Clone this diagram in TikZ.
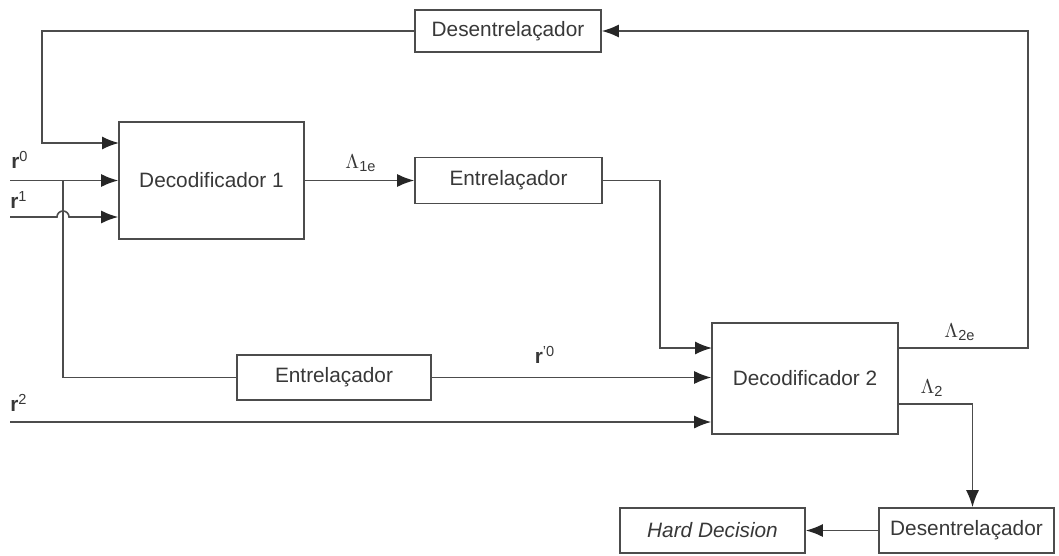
\documentclass[tikz,border=0pt]{standalone}
\usepackage{fontspec}
\setmainfont{Liberation Sans}
\usetikzlibrary{arrows.meta}
\definecolor{wireGray}{rgb}{0.30,0.30,0.30}
\definecolor{textGray}{rgb}{0.22,0.22,0.22}
\tikzset{
	block/.style={draw=wireGray, line width=0.8pt, fill=white, text=textGray, inner sep=0pt,
		font=\fontsize{10.4}{12}\selectfont},
	lbl/.style={text=textGray, inner sep=0pt, font=\fontsize{10.4}{12}\selectfont},
	wire/.style={draw=wireGray, line width=0.8pt},
	flow/.style={wire, -{Latex[length=8.5pt,width=6.5pt,color=black!85]}}
}

\begin{document}
\begin{tikzpicture}[x=0.5pt, y=-0.5pt]
	\useasboundingbox (0,0) rectangle (1059,556);

	% blocks
	\node[block, minimum width=92.5pt, minimum height=58.5pt] (dec1) at (211.5,180.5) {Decodificador 1};
	\node[block, minimum width=93pt, minimum height=55.5pt] (dec2) at (805,378.5) {Decodificador 2};
	\node[block, minimum width=93.5pt, minimum height=23pt] (entT) at (508.5,180.5) {Entrela\c{c}ador};
	\node[block, minimum width=97pt, minimum height=22.5pt] (entB) at (334,377.5) {Entrela\c{c}ador};
	\node[block, minimum width=93pt, minimum height=21pt] (desT) at (508,31) {Desentrela\c{c}ador};
	\node[block, minimum width=87.5pt, minimum height=22.5pt] (desR) at (966.5,530.5) {Desentrela\c{c}ador};
	\node[block, minimum width=92.5pt, minimum height=22.5pt] (hard) at (712.5,530.5) {\itshape Hard Decision};

	% ports and bends
	\coordinate (r0in) at (10,180.5);
	\coordinate (r1in) at (10,217);
	\coordinate (r2in) at (10,422);
	\coordinate (split) at (63,180.5);
	\coordinate (hop) at (63,217);
	\coordinate (fb1) at (119,143);
	\coordinate (d2in1) at (712,348);
	\coordinate (d2out1) at (898,348);
	\coordinate (d2out2) at (898,404);

	% inputs to the first decoder
	\draw[flow] (r0in) -- (dec1.west);
	\draw[flow] (r1in) -- ([xshift=-3pt]hop) arc(180:360:6) -- (dec1.west |- r1in);
	\draw[wire] (split) |- (entB.west);
	\draw[flow] (entB.east) -- (dec2.west |- entB.east);
	\draw[flow] (r2in) -- (dec2.west |- r2in);

	% decoder chain
	\draw[flow] (dec1.east) -- (entT.west);
	\draw[flow] (entT.east) -| ([xshift=-26pt]d2in1) -- (d2in1);
	\draw[flow] (d2out1) -| ([xshift=65pt]d2out1 |- desT.east) -- (desT.east);
	\draw[flow] (desT.west) -| ([xshift=-38.5pt]fb1) -- (fb1);
	\draw[flow] (d2out2) -| ([xshift=3pt]desR.north);
	\draw[flow] (desR.west) -- (hard.east);

	% labels
	\node[lbl] (lr0) at (20,160) {\textbf{r}\textsuperscript{0}};
	\node[lbl] (lr1) at (19,200) {\textbf{r}\textsuperscript{1}};
	\node[lbl] (lr2) at (19,403) {\textbf{r}\textsuperscript{2}};
	\node[lbl] (lrp) at (545,355) {\textbf{r}\textsuperscript{\textquoteright0}};
	\node[lbl] (l1e) at (361,163) {$\Lambda$\textsubscript{1e}};
	\node[lbl] (l2e) at (960,332) {$\Lambda$\textsubscript{2e}};
	\node[lbl] (l2) at (932,388) {$\Lambda$\textsubscript{2}};
\end{tikzpicture}
\end{document}
